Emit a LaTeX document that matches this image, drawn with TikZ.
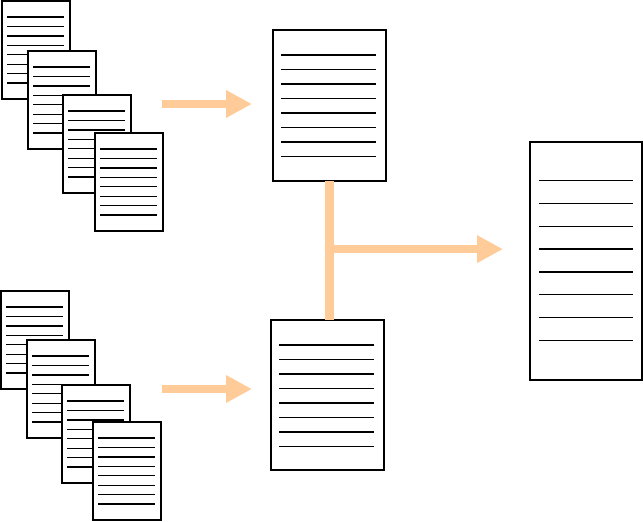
\documentclass[tikz,border=0pt]{standalone}
\usepackage{xcolor}
\usepackage{tikz}
\usetikzlibrary{arrows.meta, calc}

\definecolor{peach}{RGB}{255,204,153}

\begin{document}
\begin{tikzpicture}[
    x=1pt, y=-1pt,
    page/.style={rectangle, draw, fill=white, line width=1.5pt, inner sep=0pt, outer sep=0pt, anchor=north west},
    small/.style={page, minimum width=68, minimum height=98},
    rule/.style={line width=1.3pt},
    flow/.style={draw=peach, line width=8.5pt},
    arrow/.style={flow, -{Triangle[length=26pt, width=26pt]}}
]
\useasboundingbox (0,0) rectangle (643,522);

% upper stack of pages
\node[small] (upA) at (2,1) {};
\foreach \i in {0,...,7} \draw[rule] ([shift={(5,16+9.43*\i)}]upA.north west) -- ++(57,0);
\node[small] (upB) at (28,51) {};
\foreach \i in {0,...,7} \draw[rule] ([shift={(5,16+9.43*\i)}]upB.north west) -- ++(57,0);
\node[small] (upC) at (63,95) {};
\foreach \i in {0,...,7} \draw[rule] ([shift={(5,16+9.43*\i)}]upC.north west) -- ++(57,0);
\node[small] (upD) at (95,133) {};
\foreach \i in {0,...,7} \draw[rule] ([shift={(5,16+9.43*\i)}]upD.north west) -- ++(57,0);

% lower stack of pages
\node[small] (lowA) at (1,291) {};
\foreach \i in {0,...,7} \draw[rule] ([shift={(5,16+9.43*\i)}]lowA.north west) -- ++(57,0);
\node[small] (lowB) at (27,340) {};
\foreach \i in {0,...,7} \draw[rule] ([shift={(5,16+9.43*\i)}]lowB.north west) -- ++(57,0);
\node[small] (lowC) at (62,385) {};
\foreach \i in {0,...,7} \draw[rule] ([shift={(5,16+9.43*\i)}]lowC.north west) -- ++(57,0);
\node[small] (lowD) at (93,422) {};
\foreach \i in {0,...,7} \draw[rule] ([shift={(5,16+9.43*\i)}]lowD.north west) -- ++(57,0);

% merged pages
\node[page, minimum width=113, minimum height=151] (upSum) at (273,30) {};
\foreach \i in {0,...,7} \draw[rule] ([shift={(8,25+14.5*\i)}]upSum.north west) -- ++(95,0);
\node[page, minimum width=113, minimum height=150] (lowSum) at (271,320) {};
\foreach \i in {0,...,7} \draw[rule] ([shift={(8,25+14.5*\i)}]lowSum.north west) -- ++(95,0);

% result page
\node[page, minimum width=112, minimum height=238] (result) at (530,142) {};
\foreach \i in {0,...,7} \draw[rule] ([shift={(9,38.5+22.86*\i)}]result.north west) -- ++(94,0);

% arrows
\coordinate (upTail) at (162,104);
\coordinate (upTip) at (252,104);
\coordinate (lowTail) at (162,389);
\coordinate (lowTip) at (252,389);
\coordinate (barEnd) at (upSum.south |- lowSum.north);
\coordinate (join) at ($(upSum.south)!0.49!(barEnd)$);
\coordinate (outTip) at (503,249);

\draw[arrow] (upTail) -- (upTip);
\draw[arrow] (lowTail) -- (lowTip);
\draw[flow] (upSum.south) -- (barEnd);
\draw[arrow] (join) -- (join -| outTip);
\end{tikzpicture}
\end{document}
